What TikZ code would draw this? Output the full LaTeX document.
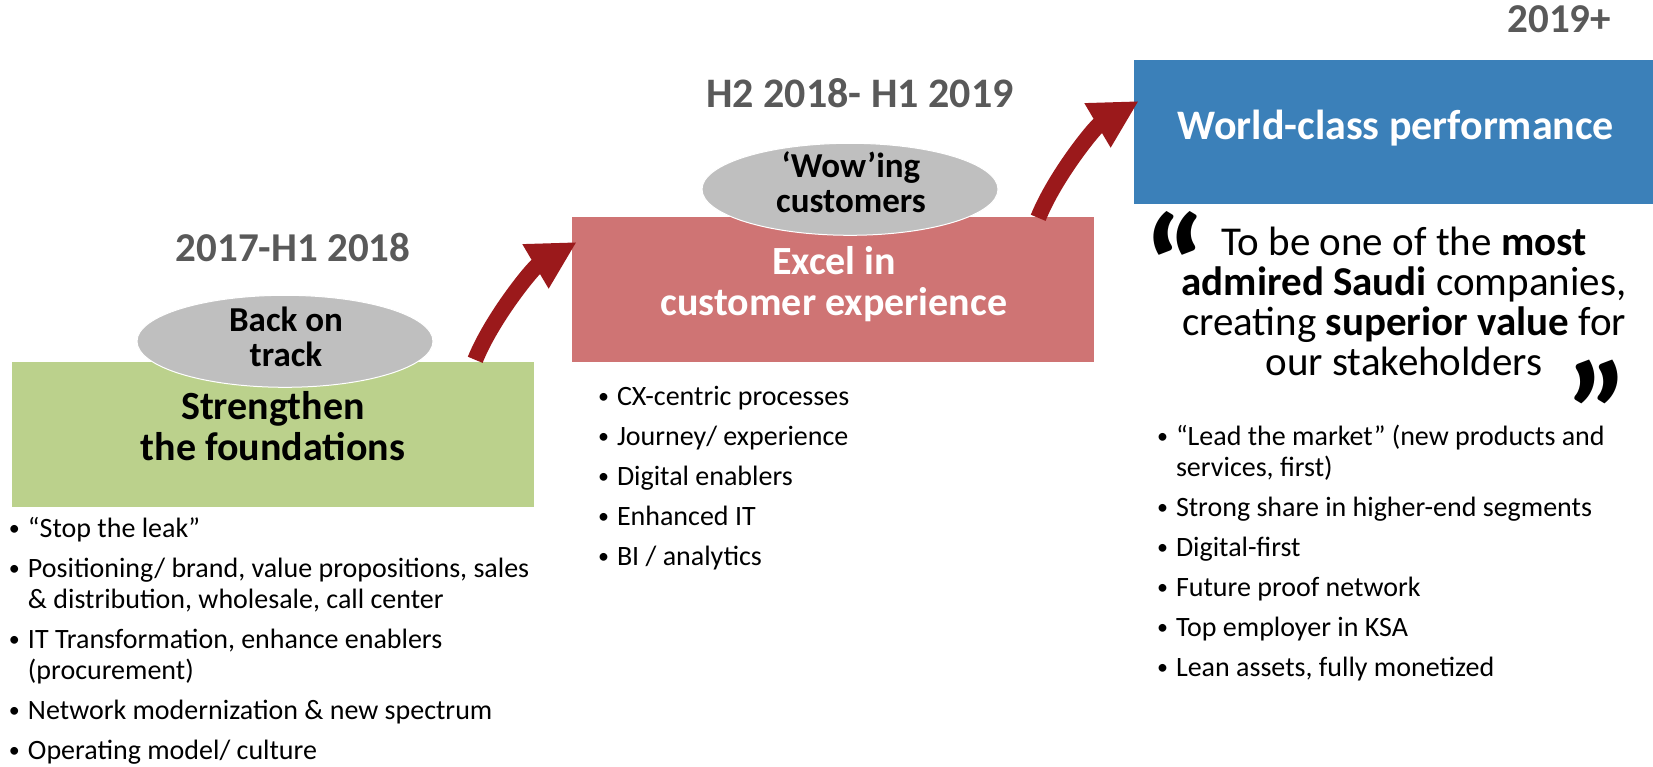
\documentclass[tikz,border=0pt]{standalone}
\usepackage{fontspec}
\setmainfont{Carlito}
\usepackage{tikz}
\usetikzlibrary{positioning,shapes.geometric,arrows.meta,calc}

\definecolor{foundgreen}{RGB}{187,209,140}
\definecolor{excelred}{RGB}{207,116,116}
\definecolor{worldblue}{RGB}{59,128,185}
\definecolor{arrowred}{RGB}{155,25,27}
\definecolor{ovalgray}{RGB}{191,191,191}
\definecolor{yeargray}{RGB}{89,89,89}

% 箇条書き
\newcommand{\bitem}[1]{\par\parskip=9pt\relax\hangindent=19pt\hangafter=1\noindent\hbox to 19pt{\raisebox{1.5pt}{\fontsize{22}{22}\selectfont\textbullet}\hfil}#1}
\newcommand{\bulletblock}[1]{\parbox[t]{560pt}{\raggedright #1}}
% 大きな引用符
\newcommand{\bigquote}[1]{\raisebox{-63pt}[44pt][0pt]{#1}}

\tikzset{
  phasebox/.style={rectangle, minimum width=522pt, minimum height=145pt, inner sep=0pt},
  phaseoval/.style={ellipse, fill=ovalgray, draw=white, line width=1pt, minimum width=296pt, minimum height=92pt, inner sep=0pt},
  boxtitle/.style={font=\fontsize{40}{41}\selectfont\bfseries, align=center, anchor=base, inner sep=0pt},
  ovaltitle/.style={font=\fontsize{35}{35}\selectfont\bfseries, align=center, anchor=base, inner sep=0pt},
  yearlabel/.style={font=\fontsize{41}{41}\selectfont\bfseries, text=yeargray, anchor=base, inner sep=0pt},
  bulletlist/.style={font=\fontsize{28}{31}\selectfont, anchor=base west, inner sep=0pt},
  quotetext/.style={font=\fontsize{41}{40}\selectfont, align=center, anchor=base, inner sep=0pt},
  quotemark/.style={font=\fontsize{145}{145}\selectfont\bfseries, anchor=base west, inner sep=0pt},
  stagearrow/.style={draw=arrowred, line width=16pt, -{Triangle[length=48pt,width=48pt]}}
}

\begin{document}
\begin{tikzpicture}[x=1pt, y=-1pt]
    \useasboundingbox (0,0) rectangle (1653,767);
    % ノード定義
    \node [phasebox, fill=foundgreen] (found) at (273,434.5) {};
    \node [phasebox, fill=excelred] (excel) at (833,289.5) {};
    \node [phasebox, fill=worldblue, minimum width=519pt, minimum height=144pt] (world) at (1393.5,132) {};
    \node [phaseoval] (back) at ($(found.north)+(12,-20.5)$) {};
    \node [phaseoval] (wow) at ($(excel.north)+(17,-27.5)$) {};

    \node [boxtitle] (foundtxt) at ($(found.center)+(0,25.5)$) {Strengthen\\the foundations};
    \node [boxtitle, text=white] (exceltxt) at ($(excel.center)+(1,25.5)$) {Excel in\\customer experience};
    \node [boxtitle, text=white, font=\fontsize{42}{42}\selectfont\bfseries] (worldtxt) at ($(world.center)+(2.5,8)$) {World-class performance};
    \node [ovaltitle] (backtxt) at ($(back.center)+(1,25.5)$) {Back on\\track};
    \node [ovaltitle] (wowtxt) at ($(wow.center)+(1,23.5)$) {‘Wow’ing\\customers};

    \node [yearlabel] (year1) at ($(back.center)+(8,-79.5)$) {2017-H1 2018};
    \node [yearlabel, font=\fontsize{42}{42}\selectfont\bfseries] (year2) at ($(wow.center)+(10,-81.5)$) {H2 2018- H1 2019};
    \node [yearlabel, anchor=base east] (year3) at ($(world.north east)+(-42,-27)$) {2019+};

    \node [bulletlist] (foundlist) at ($(found.south west)+(-3,30)$) {\bulletblock{%
      \bitem{“Stop the leak”}
      \bitem{Positioning/ brand, value propositions, sales\newline \& distribution, wholesale, call center}
      \bitem{IT Transformation, enhance enablers\newline (procurement)}
      \bitem{Network modernization \& new spectrum}
      \bitem{Operating model/ culture}}};
    \node [bulletlist] (excellist) at ($(excel.south west)+(26,43)$) {\bulletblock{%
      \bitem{CX-centric processes}
      \bitem{Journey/ experience}
      \bitem{Digital enablers}
      \bitem{Enhanced IT}
      \bitem{BI / analytics}}};
    \node [bulletlist] (worldlist) at ($(world.south west)+(23,241)$) {\bulletblock{%
      \bitem{“Lead the market” (new products and\newline services, first)}
      \bitem{Strong share in higher-end segments}
      \bitem{Digital-first}
      \bitem{Future proof network}
      \bitem{Top employer in KSA}
      \bitem{Lean assets, fully monetized}}};

    \node [quotetext] (vision) at ($(world.south)+(10.5,171)$) {To be one of the \textbf{most}\\\textbf{admired Saudi} companies,\\creating \textbf{superior value} for\\our stakeholders};
    \node [quotemark] (openq) at (1143,255) {\bigquote{“}};
    \node [quotemark] (closeq) at (1565,402) {\bigquote{”}};

    % 矢印
    \draw [stagearrow] ($(found.north east)+(-59,-2)$) .. controls +(17,-42) and +(-44,26) .. ($(excel.west)+(5,-47.5)$);
    \draw [stagearrow] ($(excel.north east)+(-56,1)$) .. controls +(17,-42) and +(-44,26) .. ($(world.west)+(5,-31)$);
\end{tikzpicture}
\end{document}
